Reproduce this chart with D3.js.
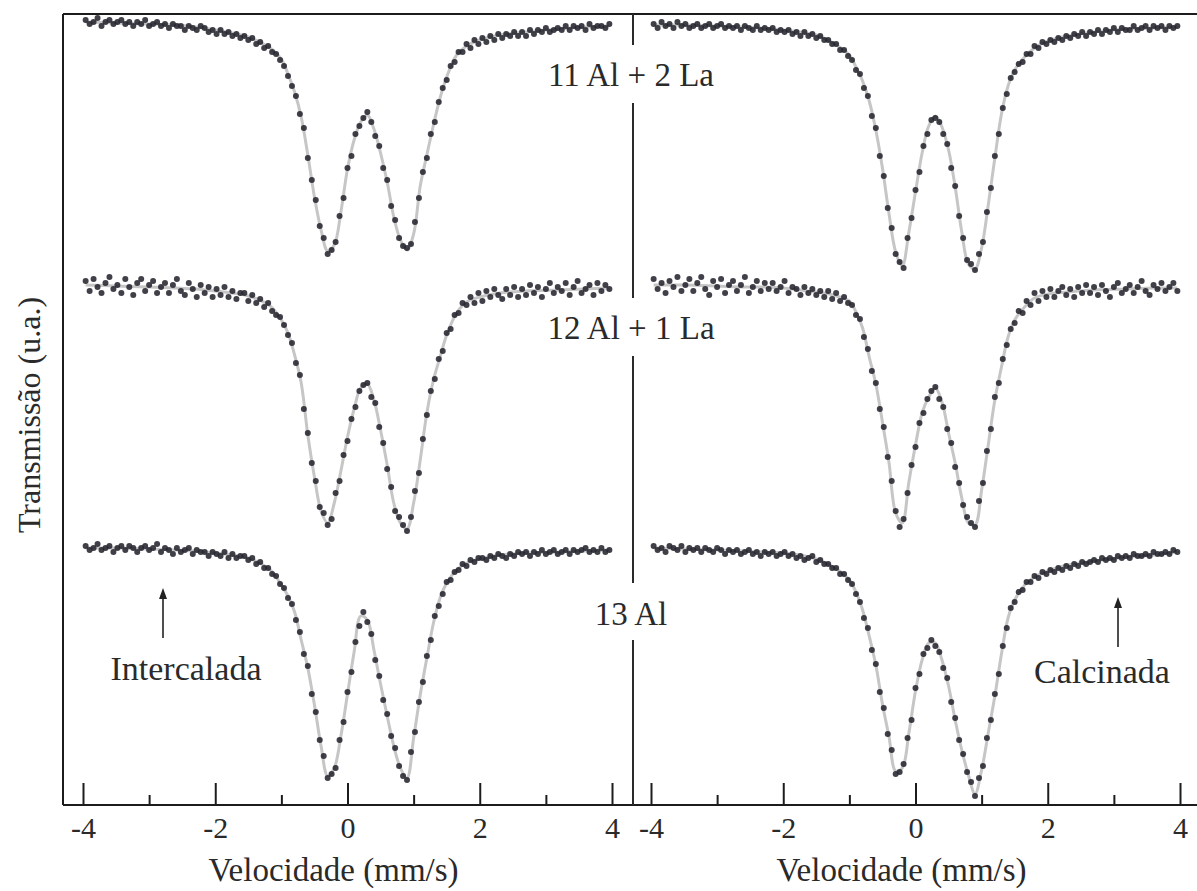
<!DOCTYPE html>
<html>
<head>
<meta charset="utf-8">
<script src="https://cdn.jsdelivr.net/npm/d3@7"></script>
<style>
  body { margin: 0; background: #fff; }
  text { font-family: "Liberation Serif", "Times New Roman", serif; fill: #2a2a2a; }
</style>
</head>
<body>
<svg id="chart" width="1197" height="891"></svg>
<script>
// Mössbauer spectra (57Fe) of the Al/La samples, intercalated and calcined.
// Transmission in per-mille of the off-resonance baseline.

const sampleNames = ["11 Al + 2 La", "12 Al + 1 La", "13 Al"];
const stateNames = ["Intercalada", "Calcinada"];
const majorTicks = [-4, -2, 0, 2, 4];
const minorTicks = [-3, -1, 1, 3];

// channel velocities (mm/s)
const velocity = [
  -3.96, -3.90, -3.84, -3.78, -3.72, -3.66, -3.60, -3.54, -3.48, -3.42,
  -3.36, -3.30, -3.24, -3.18, -3.12, -3.06, -3.00, -2.94, -2.88, -2.82,
  -2.76, -2.70, -2.64, -2.58, -2.52, -2.46, -2.40, -2.34, -2.28, -2.22,
  -2.16, -2.10, -2.04, -1.98, -1.92, -1.86, -1.80, -1.74, -1.68, -1.62,
  -1.56, -1.50, -1.44, -1.38, -1.32, -1.26, -1.20, -1.14, -1.08, -1.02,
  -0.96, -0.90, -0.84, -0.78, -0.72, -0.66, -0.60, -0.54, -0.48, -0.42,
  -0.36, -0.30, -0.24, -0.18, -0.12, -0.06, 0.00, 0.06, 0.12, 0.18,
  0.24, 0.30, 0.36, 0.42, 0.48, 0.54, 0.60, 0.66, 0.72, 0.78,
  0.84, 0.90, 0.96, 1.02, 1.08, 1.14, 1.20, 1.26, 1.32, 1.38,
  1.44, 1.50, 1.56, 1.62, 1.68, 1.74, 1.80, 1.86, 1.92, 1.98,
  2.04, 2.10, 2.16, 2.22, 2.28, 2.34, 2.40, 2.46, 2.52, 2.58,
  2.64, 2.70, 2.76, 2.82, 2.88, 2.94, 3.00, 3.06, 3.12, 3.18,
  3.24, 3.30, 3.36, 3.42, 3.48, 3.54, 3.60, 3.66, 3.72, 3.78,
  3.84, 3.90, 3.96
];

// velocities at which the fitted doublet curves are tabulated
const fitVelocity = [
  -3.96, -3.5, -3.0, -2.6, -2.3, -2.0, -1.75, -1.5, -1.3, -1.15,
  -1.0, -0.9, -0.8, -0.7, -0.6, -0.5, -0.4, -0.3, -0.2, -0.1,
  0.0, 0.1, 0.2, 0.3, 0.4, 0.5, 0.6, 0.7, 0.8, 0.9,
  1.0, 1.1, 1.2, 1.3, 1.4, 1.5, 1.65, 1.8, 2.0, 2.3,
  2.7, 3.2, 3.6, 3.96
];

// ---- Intercalada ----
const intercalada11Al2La = [
  1001, 999, 1000, 1002, 998, 1000, 1001, 999, 1000, 1001,
  999, 1000, 998, 1000, 999, 1001, 998, 999, 1000, 998,
  999, 997, 999, 998, 998, 996, 998, 997, 996, 998,
  997, 995, 996, 994, 996, 994, 995, 993, 994, 992,
  993, 991, 992, 989, 990, 987, 988, 985, 984, 981,
  978, 973, 968, 963, 954, 947, 932, 921, 911, 898,
  892, 884, 886, 890, 903, 912, 927, 933, 944, 948,
  952, 955, 950, 943, 938, 927, 921, 908, 901, 892,
  888, 887, 889, 900, 912, 925, 932, 944, 950, 960,
  967, 971, 978, 980, 985, 985, 989, 987, 991, 989,
  992, 990, 993, 991, 994, 992, 994, 993, 995, 993,
  995, 993, 996, 994, 996, 995, 997, 995, 996, 997,
  996, 998, 996, 998, 997, 998, 996, 999, 997, 998,
  998, 997, 999
];
const intercalada11Al2LaFit = [
  1000, 999.5, 999, 998.5, 997.5, 996, 994.5, 992.5, 989.5, 986.5,
  981.5, 974, 965, 952.5, 933.5, 912.5, 896, 885.5, 888.5, 905,
  926.5, 941, 950, 953.5, 946.5, 934.5, 920, 902.5, 891, 886,
  894, 918, 933.5, 948.5, 962, 972.5, 983.5, 988, 991, 993.5,
  995, 996.5, 997.5, 998
];

const intercalada12Al1La = [
  1002, 997, 1003, 999, 996, 1001, 1004, 998, 1000, 996,
  1003, 999, 995, 1001, 1003, 997, 1000, 1002, 996, 999,
  1001, 996, 1000, 1003, 997, 995, 1001, 998, 994, 1000,
  996, 999, 994, 998, 995, 999, 994, 997, 993, 996,
  996, 992, 995, 991, 993, 989, 991, 987, 985, 984,
  980, 975, 971, 961, 955, 938, 926, 911, 902, 889,
  886, 880, 883, 896, 902, 915, 922, 933, 939, 947,
  950, 951, 944, 941, 929, 921, 908, 899, 887, 884,
  880, 877, 884, 897, 906, 923, 935, 947, 953, 963,
  967, 976, 978, 985, 986, 991, 990, 994, 991, 996,
  992, 997, 994, 998, 995, 993, 998, 995, 999, 994,
  998, 995, 1000, 996, 999, 994, 998, 1001, 996, 999,
  997, 1001, 995, 999, 1002, 996, 998, 1000, 995, 1001,
  997, 1000, 998
];
const intercalada12Al1LaFit = [
  1000, 999.5, 999, 998.5, 998, 997, 996, 994.5, 992, 989,
  982.5, 976, 965, 951, 925, 904, 887, 881, 891, 907,
  924, 938, 948.5, 950.5, 942.5, 927.5, 910, 891, 881, 878,
  891, 912.5, 936, 952.5, 964, 975, 986, 991.5, 994, 996,
  997, 997.5, 998, 998.5
];

const intercalada13Al = [
  1001, 999, 1000, 1002, 999, 1000, 1001, 998, 1000, 1001,
  999, 1001, 1000, 998, 1000, 1001, 999, 1000, 1002, 998,
  1000, 999, 997, 1000, 998, 999, 1000, 997, 999, 998,
  998, 996, 998, 997, 996, 998, 995, 997, 995, 996,
  996, 994, 995, 992, 993, 990, 990, 987, 986, 982,
  980, 975, 972, 964, 958, 947, 941, 927, 918, 904,
  896, 885, 887, 890, 904, 913, 928, 938, 953, 961,
  968, 963, 957, 944, 936, 924, 917, 906, 900, 891,
  886, 884, 898, 908, 923, 933, 946, 954, 966, 971,
  977, 983, 984, 988, 989, 992, 991, 994, 993, 995,
  995, 994, 996, 995, 997, 996, 995, 997, 996, 998,
  997, 998, 996, 998, 997, 999, 997, 998, 999, 997,
  998, 999, 997, 999, 998, 999, 1000, 998, 999, 998,
  1000, 998, 999
];
const intercalada13AlFit = [
  1000, 1000, 999.5, 999, 998.5, 997.5, 996.5, 995, 992, 988.5,
  981.5, 976, 968, 954, 940, 921.5, 901, 886, 890, 906,
  927, 948, 966, 964, 949, 932, 916, 901, 890, 885,
  905, 926.5, 945, 962.5, 975, 982.5, 989, 992.5, 994.5, 996.5,
  997.5, 998, 998.5, 999
];

// ---- Calcinada ----
const calcinada11Al2La = [
  999, 997, 1000, 998, 999, 997, 1000, 998, 999, 997,
  998, 999, 997, 998, 999, 997, 998, 999, 997, 998,
  997, 998, 996, 998, 997, 996, 998, 996, 997, 996,
  997, 995, 996, 995, 996, 994, 995, 993, 995, 993,
  994, 992, 993, 991, 991, 989, 989, 986, 986, 983,
  981, 976, 974, 967, 963, 953, 947, 933, 923, 907,
  897, 884, 880, 877, 892, 902, 916, 925, 938, 944,
  951, 952, 950, 944, 939, 927, 918, 903, 892, 881,
  879, 876, 884, 890, 905, 917, 933, 944, 957, 964,
  972, 975, 979, 980, 984, 984, 988, 987, 990, 989,
  991, 990, 992, 991, 993, 992, 994, 993, 995, 993,
  995, 994, 996, 994, 996, 995, 997, 995, 997, 996,
  996, 998, 996, 997, 998, 996, 998, 997, 998, 996,
  998, 997, 998
];
const calcinada11Al2LaFit = [
  998.5, 998.5, 998, 997.5, 997, 996, 995, 993.5, 990.5, 987.5,
  983.5, 977.5, 970.5, 960.5, 946, 927, 904, 885, 878, 895,
  915, 934.5, 948, 953, 947.5, 936, 917.5, 895, 879, 876.5,
  887, 908.5, 932, 954, 968, 976, 982.5, 987, 990.5, 993,
  995, 996.5, 997, 997.5
];

const calcinada12Al1La = [
  1003, 998, 1001, 996, 1002, 999, 1004, 997, 1000, 1003,
  997, 1001, 1004, 998, 995, 1002, 999, 1003, 996, 1000,
  1002, 997, 1000, 1004, 996, 999, 1002, 997, 1001, 998,
  1001, 997, 999, 1002, 996, 999, 998, 995, 999, 996,
  998, 995, 997, 994, 997, 993, 996, 992, 994, 991,
  990, 985, 983, 974, 968, 957, 951, 938, 929, 914,
  902, 887, 879, 883, 896, 910, 919, 931, 936, 943,
  947, 949, 943, 939, 928, 921, 909, 901, 890, 884,
  881, 879, 892, 901, 917, 928, 944, 951, 963, 970,
  978, 981, 987, 986, 992, 990, 996, 992, 997, 994,
  998, 994, 997, 999, 995, 998, 994, 999, 996, 1000,
  996, 999, 995, 1000, 997, 994, 999, 1001, 996, 998,
  1000, 996, 999, 1002, 997, 995, 1000, 998, 1001, 997,
  999, 1001, 997
];
const calcinada12Al1LaFit = [
  1000, 1000, 999.5, 999, 999, 998.5, 997.5, 996.5, 995.5, 994,
  992, 986.5, 978.5, 964, 950.5, 931.5, 911, 886, 881, 901.5,
  920, 936, 944, 948.5, 941.5, 926, 911, 893.5, 881, 880,
  897.5, 920, 942.5, 959, 974, 982.5, 989, 993.5, 995.5, 996.5,
  997.5, 998, 998.5, 998.5
];

const calcinada13Al = [
  1001, 999, 1000, 998, 1001, 1000, 999, 1001, 998, 1000,
  999, 1000, 998, 1000, 999, 998, 1000, 999, 997, 999,
  998, 999, 997, 998, 999, 997, 998, 996, 998, 997,
  998, 996, 997, 998, 996, 997, 995, 996, 994, 995,
  996, 993, 994, 992, 992, 990, 990, 987, 987, 984,
  982, 977, 973, 965, 960, 949, 942, 928, 920, 907,
  899, 887, 888, 892, 905, 914, 930, 937, 947, 950,
  954, 951, 948, 940, 935, 923, 915, 904, 897, 888,
  883, 876, 885, 891, 905, 914, 927, 937, 951, 960,
  970, 973, 978, 979, 983, 983, 986, 985, 988, 987,
  989, 988, 990, 989, 991, 990, 992, 991, 993, 992,
  993, 994, 993, 995, 994, 995, 994, 996, 995, 996,
  995, 997, 996, 996, 997, 996, 998, 997, 997, 998,
  997, 999, 998
];
const calcinada13AlFit = [
  1000, 999.5, 999, 998.5, 998, 997.5, 996.5, 994.5, 991.5, 988.5,
  984, 978, 969, 956, 941.5, 922, 905.5, 888.5, 890, 907.5,
  928.5, 944, 952.5, 952.5, 944, 931, 914, 899, 886.5, 877,
  889, 907.5, 926, 947, 965, 974, 981.5, 985.5, 988.5, 991.5,
  993.5, 995.5, 996.5, 998
];

// ---------------------------------------------------------------
const spectra = [
  { state: 0, row: 0, values: intercalada11Al2La, fit: intercalada11Al2LaFit },
  { state: 0, row: 1, values: intercalada12Al1La, fit: intercalada12Al1LaFit },
  { state: 0, row: 2, values: intercalada13Al,    fit: intercalada13AlFit },
  { state: 1, row: 0, values: calcinada11Al2La,   fit: calcinada11Al2LaFit },
  { state: 1, row: 1, values: calcinada12Al1La,   fit: calcinada12Al1LaFit },
  { state: 1, row: 2, values: calcinada13Al,      fit: calcinada13AlFit }
];

const svg = d3.select("#chart");
const frame = { left: 63, right: 1199, top: 14, bottom: 805 };
const divider = 633;
const serif = "Liberation Serif, Times New Roman, serif";

// one velocity scale per panel, a shared stacked transmission scale
const x = [
  d3.scaleLinear().domain([-4, 4]).range([83, 612]),
  d3.scaleLinear().domain([-4, 4]).range([651, 1180])
];
const y = d3.scaleLinear().domain([871.5, 1267]).range([frame.bottom, frame.top]);
const rowShift = [263, 131.5, 0];   // vertical stacking of the three samples

// fitted curves underneath the measured points
const g = svg.append("g");
spectra.forEach(s => {
  const xs = x[s.state], shift = rowShift[s.row];
  const line = d3.line()
    .x((d, i) => xs(fitVelocity[i]))
    .y(d => y(d + shift))
    .curve(d3.curveCatmullRom.alpha(0.5));
  g.append("path")
    .attr("d", line(s.fit))
    .attr("fill", "none")
    .attr("stroke", "#c6c6c6")
    .attr("stroke-width", 3);
});
spectra.forEach(s => {
  const xs = x[s.state], shift = rowShift[s.row];
  g.append("g").selectAll("circle")
    .data(s.values)
    .join("circle")
    .attr("cx", (d, i) => xs(velocity[i]))
    .attr("cy", d => y(d + shift))
    .attr("r", 3)
    .attr("fill", "#262630")
    .attr("fill-opacity", 0.88);
});

// frame
const axisColor = "#1c1c1c";
svg.append("line").attr("x1", frame.left).attr("x2", frame.right)
  .attr("y1", frame.top).attr("y2", frame.top)
  .attr("stroke", axisColor).attr("stroke-width", 2);
svg.append("line").attr("x1", frame.left).attr("x2", frame.left)
  .attr("y1", frame.top).attr("y2", frame.bottom)
  .attr("stroke", axisColor).attr("stroke-width", 2);
svg.append("line").attr("x1", frame.left).attr("x2", frame.right)
  .attr("y1", frame.bottom).attr("y2", frame.bottom)
  .attr("stroke", axisColor).attr("stroke-width", 2);

// panel divider, interrupted by the sample names
const labelY = [86, 339, 625];
const dividerRuns = [[frame.top, 45], [103, 298], [356, 583], [640, frame.bottom]];
dividerRuns.forEach(([a, b]) => {
  svg.append("line").attr("x1", divider).attr("x2", divider)
    .attr("y1", a).attr("y2", b)
    .attr("stroke", "#2a2a2a").attr("stroke-width", 2);
});
sampleNames.forEach((name, i) => {
  svg.append("text")
    .attr("x", divider - 2).attr("y", labelY[i])
    .attr("text-anchor", "middle")
    .attr("font-family", serif)
    .attr("font-size", 33)
    .text(name);
});

// velocity axes with inward ticks
x.forEach((xs, p) => {
  const major = d3.axisBottom(xs).tickValues(majorTicks)
    .tickSize(-22).tickPadding(12).tickFormat(d => String(d));
  const minor = d3.axisBottom(xs).tickValues(minorTicks)
    .tickSize(-10).tickFormat("");
  const ga = svg.append("g").attr("transform", `translate(0,${frame.bottom})`).call(major);
  const gm = svg.append("g").attr("transform", `translate(0,${frame.bottom})`).call(minor);
  [ga, gm].forEach(a => {
    a.select(".domain").remove();
    a.selectAll(".tick line").attr("stroke", axisColor).attr("stroke-width", 2);
  });
  ga.attr("font-family", serif);
  ga.selectAll(".tick text")
    .attr("font-family", serif)
    .attr("font-size", 30).attr("fill", "#2a2a2a");

  svg.append("text")
    .attr("x", xs(0) - 14).attr("y", 881)
    .attr("text-anchor", "middle")
    .attr("font-family", serif)
    .attr("font-size", 33)
    .text("Velocidade (mm/s)");
});

// y-axis title
svg.append("text")
  .attr("transform", "translate(40,415) rotate(-90)")
  .attr("text-anchor", "middle")
  .attr("font-family", serif)
  .attr("font-size", 32)
  .text("Transmissão (u.a.)");

// state annotations with arrows
const notes = [
  { text: stateNames[0], tx: 186, ty: 680, ax: 163, y0: 638, y1: 588 },
  { text: stateNames[1], tx: 1102, ty: 683, ax: 1118, y0: 647, y1: 597 }
];
notes.forEach(n => {
  svg.append("line").attr("x1", n.ax).attr("x2", n.ax)
    .attr("y1", n.y0).attr("y2", n.y1 + 6)
    .attr("stroke", "#222").attr("stroke-width", 1.6);
  svg.append("path")
    .attr("d", `M${n.ax},${n.y1} L${n.ax - 4},${n.y1 + 11} L${n.ax + 4},${n.y1 + 11} Z`)
    .attr("fill", "#222");
  svg.append("text")
    .attr("x", n.tx).attr("y", n.ty)
    .attr("text-anchor", "middle")
    .attr("font-family", serif)
    .attr("font-size", 34)
    .text(n.text);
});
</script>
</body>
</html>
